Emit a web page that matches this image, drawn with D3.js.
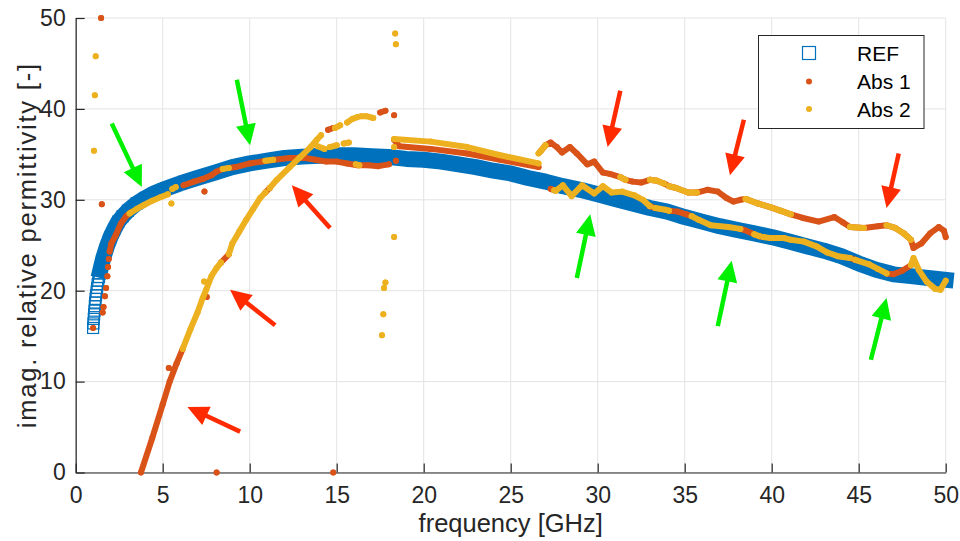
<!DOCTYPE html>
<html>
<head>
<meta charset="utf-8">
<script src="https://cdn.jsdelivr.net/npm/d3@7"></script>
<style>
  body { margin: 0; background: #fff; }
  svg { display: block; }
  text { font-family: "Liberation Sans", Arial, Helvetica, sans-serif; }
</style>
</head>
<body>
<svg id="chart" width="960" height="541"></svg>
<script>
// Axis ticks
const xTicks = [0, 5, 10, 15, 20, 25, 30, 35, 40, 45, 50];
const yTicks = [0, 10, 20, 30, 40, 50];

// Reference measurement: [frequency GHz, imag. relative permittivity]
const refData = [
  [1.00, 15.9], [1.02, 16.4], [1.04, 16.9], [1.06, 17.4], [1.08, 17.8], [1.10, 18.3],
  [1.12, 18.7], [1.14, 19.1], [1.17, 19.5], [1.20, 19.9], [1.23, 20.3], [1.26, 20.7],
  [1.30, 21.1], [1.34, 21.5], [1.38, 21.9], [1.42, 22.3], [1.47, 22.7], [1.52, 23.1],
  [1.60, 23.7], [1.70, 24.3], [1.80, 24.9], [1.90, 25.4], [2.00, 25.9], [2.20, 26.7],
  [2.45, 27.6], [2.70, 28.2], [3.00, 28.8], [3.50, 29.6], [4.00, 30.2], [4.50, 30.7],
  [5.00, 31.1], [6.00, 31.8], [7.00, 32.4], [8.00, 33.0], [9.00, 33.6], [10.0, 34.0],
  [11.0, 34.3], [12.0, 34.6], [13.0, 34.75], [14.0, 34.85], [15.0, 34.9], [16.0, 34.9],
  [17.0, 34.8], [18.0, 34.7], [19.0, 34.5], [20.0, 34.4], [21.0, 34.2], [22.0, 33.9],
  [23.0, 33.6], [24.0, 33.2], [25.0, 32.9], [26.0, 32.4], [27.0, 32.0], [28.0, 31.5],
  [29.0, 31.1], [30.0, 30.6], [31.0, 30.1], [32.0, 29.6], [33.0, 29.1], [34.0, 28.7],
  [35.0, 28.1], [36.0, 27.6], [37.0, 27.1], [38.0, 26.7], [39.0, 26.3], [40.0, 25.9],
  [41.0, 25.4], [42.0, 24.9], [43.0, 24.4], [44.0, 23.8], [45.0, 23.0], [46.0, 22.3],
  [47.0, 21.8], [48.0, 21.6], [49.0, 21.4], [50.0, 21.2]
];

// Extraction method 1; null separates runs of samples
const abs1Data = [
  [1.46, 50.0], null, [1.50, 29.5], null, [8.10, 0.0], null, [14.8, 0.0], null, [7.40, 30.9], null,
  [1.00, 15.9], null, [1.55, 17.6], null, [1.60, 18.2], null, [1.68, 19.4], null, [1.75, 20.3], null,
  [1.82, 21.6], null, [1.86, 22.6], null, [1.90, 23.5], null,
  [1.95, 24.3], [2.05, 25.2], [2.30, 26.1], [2.60, 27.4], [2.90, 28.2], [3.15, 28.6], null,
  [3.75, 0.0], [4.40, 3.8], [5.00, 7.5], [5.40, 10.0], [5.80, 12.0], [6.15, 13.6], null,
  [5.35, 11.5], null, [7.53, 19.3], null,
  [6.20, 31.6], [6.80, 32.0], [7.30, 32.3], [7.80, 32.7], [8.10, 33.1], [8.45, 33.4], null,
  [8.35, 23.1], [8.80, 24.0], null,
  [10.9, 30.8], [11.15, 31.3], null,
  [8.80, 33.5], [9.20, 33.6], [10.0, 34.0], [10.7, 34.2], [11.4, 34.4], [12.3, 34.6], [13.2, 34.6],
  [13.8, 34.4], [14.4, 34.2], [15.0, 34.2], [15.6, 34.0], [16.2, 33.8], [16.8, 33.8], [17.4, 33.7],
  [18.0, 33.9], null, [18.4, 34.3], null,
  [14.5, 37.7], [14.8, 37.9], null, [17.5, 39.6], [17.8, 39.8], null, [18.3, 39.3], null,
  [18.3, 36.6], [18.6, 35.9], [20.4, 35.6], [22.5, 35.1], [24.4, 34.4], [26.6, 33.6], null,
  // upper branch above 27 GHz
  [26.7, 35.3], [27.0, 36.0], [27.3, 36.3], [27.65, 35.8], [27.95, 35.2], [28.4, 35.8], [28.8, 35.1],
  [29.4, 33.9], [29.8, 34.2], [30.3, 33.0], [30.7, 32.85], [31.3, 32.5], [31.6, 32.2], [32.0, 32.0],
  [32.5, 31.9], [33.0, 32.2], [33.4, 32.1], [33.8, 31.8], [34.1, 31.5], [34.5, 31.3], [35.2, 30.8],
  [35.7, 30.8], [36.3, 31.1], [36.9, 30.9], [37.4, 30.2], [37.8, 29.8], [38.2, 30.0], [38.5, 30.1],
  [39.2, 29.6], [39.9, 29.2], [40.5, 28.8], [41.1, 28.4], [41.8, 28.0], [42.7, 27.6], [43.6, 28.1],
  [44.1, 27.5], [44.5, 27.0], [45.3, 26.9], [46.1, 27.1], [46.6, 27.2], [47.1, 26.9], [47.6, 26.3],
  [48.0, 25.6], [48.15, 24.7], [48.6, 25.2], [49.1, 26.3], [49.6, 27.0], [49.9, 26.6], [50.0, 25.9], null,
  // lower-branch runs
  [27.3, 31.2], [27.5, 31.05], null,
  [33.0, 29.3], [33.3, 29.1], null,
  [34.1, 28.8], [34.6, 28.7], [35.1, 28.4], [35.4, 28.2], null,
  [38.2, 26.8], [38.4, 26.7], [39.0, 26.2], null,
  [39.3, 26.0], [39.5, 25.9], null,
  [44.5, 23.6], [44.8, 23.4], null,
  [46.6, 21.9], [47.0, 21.8], [47.5, 22.2], [48.0, 22.8], null
];

// Extraction method 2; null separates runs of samples
const abs2Data = [
  [1.15, 45.8], null, [1.10, 41.5], null, [1.05, 35.4], null,
  [18.36, 48.3], null, [18.4, 47.1], null, [18.3, 25.9], null, [17.8, 20.9], null,
  [17.72, 20.3], null, [17.68, 17.4], null, [17.6, 15.1], null,
  [5.50, 29.6], null, [7.38, 21.0], null,
  [3.10, 28.5], [3.50, 29.0], [3.90, 29.4], [4.40, 29.9], [4.90, 30.3], [5.30, 30.6], null,
  [5.55, 31.2], [5.75, 31.4], null,
  [8.45, 33.4], [8.80, 33.5], null,
  [10.9, 34.3], [11.35, 34.4], null,
  [6.15, 13.6], [6.60, 15.8], [7.00, 17.6], [7.30, 19.2], [7.50, 20.1], [7.80, 21.6], [8.10, 22.5], [8.35, 23.1], null,
  [8.80, 24.0], [9.00, 25.2], [9.40, 26.5], [9.80, 27.8], [10.2, 29.0], [10.6, 30.2], [10.9, 30.8], null,
  [11.15, 31.3], [11.56, 32.2], [12.3, 33.6], [12.9, 34.7], [13.5, 35.8], [13.86, 36.6], [14.1, 37.1], null,
  [14.9, 37.9], [15.2, 38.2], null, [15.6, 38.5], [15.9, 38.9], [16.2, 39.1], null,
  [16.4, 39.2], [16.7, 39.2], [17.1, 39.0], null,
  [13.9, 35.9], [14.3, 35.6], null, [14.6, 35.8], [15.0, 36.0], null, [15.4, 36.2], [15.7, 36.3], null,
  [16.1, 33.9], [16.3, 33.8], null,
  [18.3, 35.8], null,
  [18.3, 36.7], [20.4, 36.4], [22.5, 35.8], [24.4, 34.9], [26.6, 34.0], null,
  // upper-branch runs
  [26.6, 35.1], [26.7, 35.3], [27.0, 36.0], null,
  [31.3, 32.5], [31.6, 32.2], null,
  [33.0, 32.2], [33.4, 32.1], [33.8, 31.8], null,
  [34.1, 31.5], [34.5, 31.3], [35.2, 30.8], [35.7, 30.8], null,
  [38.5, 30.1], [39.2, 29.6], [39.9, 29.2], [40.5, 28.8], [41.1, 28.4], null,
  [44.5, 27.0], [45.3, 26.9], null,
  [46.6, 27.2], [47.1, 26.9], [47.6, 26.3], [48.0, 25.6], null,
  // lower branch above 27 GHz
  [27.5, 31.05], [27.6, 31.0], [28.0, 31.6], [28.5, 30.4], [29.1, 31.6], [29.8, 30.7], [30.3, 31.5],
  [30.8, 30.8], [31.4, 30.9], [32.1, 30.5], [32.6, 30.0], [33.0, 29.3], null,
  [33.3, 29.1], [33.9, 28.9], [34.1, 28.8], null,
  [35.4, 28.2], [35.8, 27.8], [36.5, 27.2], [37.5, 27.0], [38.2, 26.8], null,
  [39.0, 26.2], [39.3, 26.0], null,
  [39.5, 25.9], [39.9, 25.8], [40.7, 25.8], [41.1, 25.6], [41.85, 25.4], [42.6, 24.85], [43.2, 24.2],
  [43.8, 23.8], [44.5, 23.6], null,
  [44.8, 23.4], [45.6, 22.9], [46.1, 22.4], [46.6, 21.9], null,
  [48.0, 22.8], [48.15, 23.6], [48.45, 22.3], [48.9, 21.0], [49.4, 20.2], [49.7, 20.1], [50.0, 21.1]
];

// Annotation arrows: [tail f, tail value, tip f, tip value]
const greenArrows = [
  [2.07, 38.4, 3.80, 31.4],
  [9.26, 43.2, 10.02, 36.0],
  [28.8, 21.4, 29.57, 28.4],
  [36.9, 16.1, 37.7, 23.3],
  [45.7, 12.4, 46.6, 19.2]
];
const redArrows = [
  [9.45, 4.5, 6.42, 7.2],
  [11.46, 16.2, 8.87, 20.1],
  [14.62, 26.9, 12.42, 31.6],
  [31.3, 42.0, 30.57, 35.8],
  [38.4, 38.8, 37.6, 32.7],
  [47.3, 35.1, 46.6, 29.1]
];

const legendLabels = ["REF", "Abs 1", "Abs 2"];

const colors = { ref: "#0072BD", abs1: "#D95319", abs2: "#EDB120", axis: "#262626", grid: "#e3e3e3" };

const svg = d3.select("#chart");
const x = d3.scaleLinear().domain([0, 50]).range([75.7, 945.7]);
const y = d3.scaleLinear().domain([0, 50]).range([472.5, 18]);

// grid
const grid = svg.append("g");
grid.selectAll("line.gx").data(xTicks).join("line")
  .attr("x1", d => x(d)).attr("x2", d => x(d))
  .attr("y1", y(0)).attr("y2", y(50))
  .attr("stroke", colors.grid).attr("stroke-width", 1);
grid.selectAll("line.gy").data(yTicks).join("line")
  .attr("x1", x(0)).attr("x2", x(50))
  .attr("y1", d => y(d)).attr("y2", d => y(d))
  .attr("stroke", colors.grid).attr("stroke-width", 1);

// axes (ticks point inward)
const xAxis = svg.append("g").attr("transform", `translate(0,${y(0)})`)
  .call(d3.axisBottom(x).tickValues(xTicks).tickSizeInner(-9).tickSizeOuter(0).tickPadding(14));
const yAxis = svg.append("g").attr("transform", `translate(${x(0)},0)`)
  .call(d3.axisLeft(y).tickValues(yTicks).tickSizeInner(-9).tickSizeOuter(0).tickPadding(10));
[xAxis, yAxis].forEach(g => {
  g.select(".domain").attr("stroke", colors.axis).attr("stroke-width", 1.2);
  g.selectAll(".tick line").attr("stroke", colors.axis).attr("stroke-width", 1.2);
  g.selectAll(".tick text").attr("fill", colors.axis).style("font-size", "23px");
});

// REF band: dense samples merge into a solid stroke; sparse low-frequency samples stay as hollow squares
const line = d3.line().defined(d => d).x(d => x(d[0])).y(d => y(d[1]));
svg.append("path")
  .datum(refData.filter(d => d[0] >= 1.42))
  .attr("d", line)
  .attr("fill", "none").attr("stroke", colors.ref)
  .attr("stroke-width", 16).attr("stroke-linecap", "square").attr("stroke-linejoin", "round");
const sq = 11;
svg.append("g").selectAll("rect").data(refData).join("rect")
  .attr("x", d => x(d[0]) - sq / 2).attr("y", d => y(d[1]) - sq / 2)
  .attr("width", sq).attr("height", sq)
  .attr("fill", "none").attr("stroke", colors.ref).attr("stroke-width", 1.2);

// dotted series: runs rendered as dense dot trails, every sample as a dot
function drawSeries(data, color) {
  const g = svg.append("g");
  g.append("path").datum(data).attr("d", line)
    .attr("fill", "none").attr("stroke", color)
    .attr("stroke-width", 6).attr("stroke-linecap", "round").attr("stroke-linejoin", "round");
  g.selectAll("circle").data(data.filter(d => d)).join("circle")
    .attr("cx", d => x(d[0])).attr("cy", d => y(d[1])).attr("r", 3)
    .attr("fill", color);
}
drawSeries(abs1Data, colors.abs1);
drawSeries(abs2Data, colors.abs2);

// arrows
function drawArrows(list, color) {
  const g = svg.append("g");
  list.forEach(a => {
    const x1 = x(a[0]), y1 = y(a[1]), x2 = x(a[2]), y2 = y(a[3]);
    const dx = x2 - x1, dy = y2 - y1, len = Math.hypot(dx, dy);
    const ux = dx / len, uy = dy / len;
    const hl = 21, hw = 10;
    const bx = x2 - ux * hl, by = y2 - uy * hl;
    g.append("line").attr("x1", x1).attr("y1", y1).attr("x2", bx + ux * 2).attr("y2", by + uy * 2)
      .attr("stroke", color).attr("stroke-width", 4.5);
    g.append("polygon")
      .attr("points", [[x2, y2], [bx - uy * hw, by + ux * hw], [bx + uy * hw, by - ux * hw]].map(p => p.join(",")).join(" "))
      .attr("fill", color);
  });
}
drawArrows(greenArrows, "#00f000");
drawArrows(redArrows, "#ff2a00");

// axis labels
svg.append("text").attr("x", (x(0) + x(50)) / 2).attr("y", 523)
  .attr("text-anchor", "middle").attr("dominant-baseline", "central")
  .attr("fill", colors.axis).style("font-size", "25.5px").text("frequency [GHz]");
svg.append("text").attr("transform", `translate(27,${(y(0) + y(50)) / 2}) rotate(-90)`)
  .attr("text-anchor", "middle").attr("dominant-baseline", "central")
  .attr("fill", colors.axis).style("font-size", "25.5px").style("letter-spacing", "1.8px")
  .text("imag. relative permittivity [-]");

// legend
const lg = svg.append("g");
lg.append("rect").attr("x", 758.5).attr("y", 35.5).attr("width", 165.5).attr("height", 93)
  .attr("fill", "#fff").attr("stroke", colors.axis).attr("stroke-width", 1);
const rowsY = [53, 81.5, 109];
lg.append("rect").attr("x", 809 - 6.5).attr("y", rowsY[0] - 6.5).attr("width", 13).attr("height", 13)
  .attr("fill", "none").attr("stroke", colors.ref).attr("stroke-width", 1.2);
lg.append("circle").attr("cx", 809).attr("cy", rowsY[1]).attr("r", 3).attr("fill", colors.abs1);
lg.append("circle").attr("cx", 809).attr("cy", rowsY[2]).attr("r", 3).attr("fill", colors.abs2);
lg.selectAll("text").data(legendLabels).join("text")
  .attr("x", 857).attr("y", (d, i) => rowsY[i]).attr("dominant-baseline", "central")
  .attr("fill", "#000").style("font-size", "21px").text(d => d);
</script>
</body>
</html>
